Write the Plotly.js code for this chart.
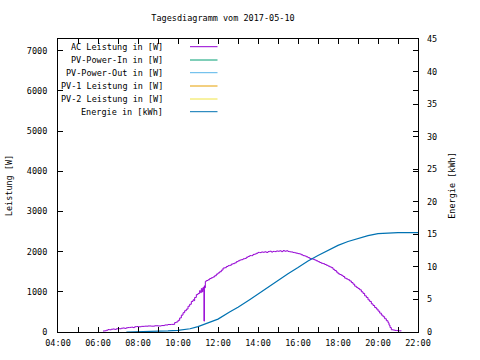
<!DOCTYPE html>
<html>
<head>
<meta charset="utf-8">
<script src="https://cdn.plot.ly/plotly-3.0.1.min.js"></script>
<style>html,body{margin:0;padding:0;background:#fff;}#chart{width:480px;height:360px;}</style>
</head>
<body>
<div id="chart"></div>
<script>
const day = "2017-05-10";
const titleText = "Tagesdiagramm vom 2017-05-10";
const seriesNames = ["AC Leistung in [W]", "PV-Power-In in [W]", "PV-Power-Out in [W]",
                     "PV-1 Leistung in [W]", "PV-2 Leistung in [W]", "Energie in [kWh]"];
const seriesColors = ["#9400d3", "#009e73", "#56b4e9", "#e69f00", "#f0e442", "#0072b2"];

// AC power (W)
const acTimes = ["06:15","06:20","06:25","06:30","06:35","06:40","06:45","06:50","06:55","07:00",
  "07:05","07:10","07:15","07:20","07:25","07:30","07:35","07:40","07:45","07:50","07:55","08:00",
  "08:10","08:20","08:30","08:40","08:50","09:00","09:10","09:20","09:30","09:40","09:50","09:55",
  "10:00","10:05","10:10","10:15","10:20","10:25","10:30","10:35","10:40","10:45","10:48","10:50",
  "10:55","11:00","11:05","11:07","11:08","11:10","11:13","11:15","11:17","11:18","11:19","11:20",
  "11:22","11:25","11:30","11:35","11:40","11:45","11:50","11:55","12:00","12:05","12:10","12:15",
  "12:20","12:25","12:30","12:35","12:40","12:45","12:50","12:55","13:00","13:05","13:10","13:15",
  "13:20","13:25","13:30","13:35","13:40","13:45","13:50","13:55","14:00","14:05","14:10","14:15",
  "14:20","14:25","14:30","14:35","14:40","14:45","14:50","14:55","15:00","15:05","15:10","15:15",
  "15:20","15:25","15:30","15:35","15:40","15:45","15:50","15:55","16:00","16:05","16:10","16:15",
  "16:20","16:25","16:30","16:35","16:40","16:45","16:50","16:55","17:00","17:05","17:10","17:15",
  "17:20","17:25","17:30","17:35","17:40","17:45","17:50","17:55","18:00","18:05","18:10","18:15",
  "18:20","18:25","18:30","18:35","18:40","18:45","18:50","18:55","19:00","19:05","19:10","19:15",
  "19:20","19:25","19:30","19:35","19:40","19:45","19:50","19:55","20:00","20:05","20:10","20:15",
  "20:20","20:25","20:30","20:33","20:36","20:40","20:45","20:50","20:55","21:00","21:05","21:10"];
const acPower = [25,30,45,60,55,70,75,65,80,85,
  80,95,100,90,105,110,115,120,110,130,135,130,
  140,145,150,145,155,150,160,175,185,190,235,250,
  290,350,420,480,530,570,640,690,760,800,780,860,
  930,960,1030,1000,980,1080,1000,1110,1050,270,1150,1100,
  1260,1280,1300,1330,1350,1370,1400,1440,1470,1500,1540,1590,
  1600,1630,1650,1660,1690,1700,1720,1750,1770,1790,1800,1820,
  1830,1860,1880,1900,1900,1930,1940,1960,1980,1975,1990,1985,
  1995,1980,2000,2010,1990,2005,2000,2015,2010,2020,2000,2025,
  2010,2020,2005,1995,1990,1980,1970,1960,1950,1940,1920,1900,
  1890,1870,1850,1830,1820,1810,1790,1770,1750,1730,1710,1700,
  1680,1660,1640,1620,1600,1560,1530,1490,1450,1430,1410,1380,
  1340,1320,1300,1270,1230,1190,1140,1110,1080,1050,1000,960,
  900,860,800,760,700,660,610,570,520,470,420,380,
  330,280,230,170,110,55,50,40,35,30,28,25];

// Cumulative energy (kWh)
const enTimes = ["07:25","08:00","08:30","09:00","09:30","10:00","10:36","11:00","11:36","12:00",
  "12:36","13:00","13:36","14:00","14:36","15:00","15:30","16:00","16:30","17:00","17:30","18:00",
  "18:30","19:00","19:30","20:00","20:30","21:00","21:30","22:00"];
const energy = [0,0.02,0.05,0.1,0.17,0.25,0.5,0.82,1.53,1.98,
  3.1,3.8,5.0,5.85,7.1,7.95,8.95,9.9,10.9,11.75,12.55,13.3,
  13.9,14.4,14.8,15.1,15.23,15.25,15.25,15.25];

// Other series carry no data in this chart
const pvInPower = [], pvOutPower = [], pv1Power = [], pv2Power = [];

const ts = t => day + " " + t;
const FONT = "DejaVu Sans Mono";

const traces = [
  {x: acTimes.map(ts), y: acPower, name: seriesNames[0], type: "scatter", mode: "lines",
   line: {color: seriesColors[0], width: 1, shape: "hv"}, yaxis: "y"},
  {x: [], y: pvInPower, name: seriesNames[1], type: "scatter", mode: "lines", line: {color: seriesColors[1], width: 1}},
  {x: [], y: pvOutPower, name: seriesNames[2], type: "scatter", mode: "lines", line: {color: seriesColors[2], width: 1}},
  {x: [], y: pv1Power, name: seriesNames[3], type: "scatter", mode: "lines", line: {color: seriesColors[3], width: 1}},
  {x: [], y: pv2Power, name: seriesNames[4], type: "scatter", mode: "lines", line: {color: seriesColors[4], width: 1}},
  {x: enTimes.map(ts), y: energy, name: seriesNames[5], type: "scatter", mode: "lines",
   line: {color: seriesColors[5], width: 1.2}, yaxis: "y2"}
];

// plot area in pixels: left 58, right 418, top 39, bottom 332
const L = 58, R = 418, T = 39, B = 332;
const px = x => (x - L) / (R - L);
const py = y => (B - y) / (B - T);

const annotations = [];
const shapes = [];
const legendRows = [46.7, 60, 72.7, 86, 99, 111.7];
seriesNames.forEach((n, i) => {
  annotations.push({text: n, xref: "paper", yref: "paper", x: px(165), y: py(legendRows[i]),
    xanchor: "right", yanchor: "middle", showarrow: false, font: {family: FONT, size: 8.5, color: "#000"}});
  shapes.push({type: "line", xref: "paper", yref: "paper", x0: px(190), x1: px(217.5),
    y0: py(legendRows[i]), y1: py(legendRows[i]), line: {color: seriesColors[i], width: 1}});
});

const layout = {
  width: 480, height: 360,
  margin: {l: L, r: 480 - R, t: T, b: 360 - B},
  paper_bgcolor: "#fff", plot_bgcolor: "#fff",
  font: {family: FONT, size: 8.5, color: "#000"},
  showlegend: false,
  title: {text: titleText, x: 223 / 480, xanchor: "center", y: 1 - 18 / 360, yanchor: "middle",
          font: {family: FONT, size: 8.5, color: "#000"}},
  xaxis: {
    type: "date", range: [ts("04:00"), ts("22:00")], dtick: 7200000, tick0: ts("04:00"),
    tickformat: "%H:%M", ticks: "inside", ticklen: 5, tickcolor: "#000",
    showline: true, linecolor: "#000", linewidth: 1, mirror: "allticks",
    showgrid: false, zeroline: false, ticklabelstandoff: 3,
    minor: {dtick: 3600000, ticks: "inside", ticklen: 3, tickcolor: "#000", showgrid: false},
    tickfont: {family: FONT, size: 8.5}
  },
  yaxis: {
    range: [0, 7290], dtick: 1000, tick0: 0, ticks: "inside", ticklen: 5, tickcolor: "#000",
    showline: true, linecolor: "#000", linewidth: 1, mirror: "allticks",
    showgrid: false, zeroline: false, ticklabelstandoff: 8,
    title: {text: "Leistung [W]", font: {family: FONT, size: 8.5}, standoff: 12},
    tickfont: {family: FONT, size: 8.5}
  },
  yaxis2: {
    overlaying: "y", side: "right", range: [0, 45], dtick: 5, tick0: 0,
    ticks: "inside", ticklen: 5, tickcolor: "#000", showline: false,
    showgrid: false, zeroline: false, ticklabelstandoff: 8,
    title: {text: "Energie [kWh]", font: {family: FONT, size: 8.5}, standoff: 12},
    tickfont: {family: FONT, size: 8.5}
  },
  annotations: annotations,
  shapes: shapes
};

Plotly.newPlot("chart", traces, layout, {staticPlot: true, displayModeBar: false});
</script>
</body>
</html>
